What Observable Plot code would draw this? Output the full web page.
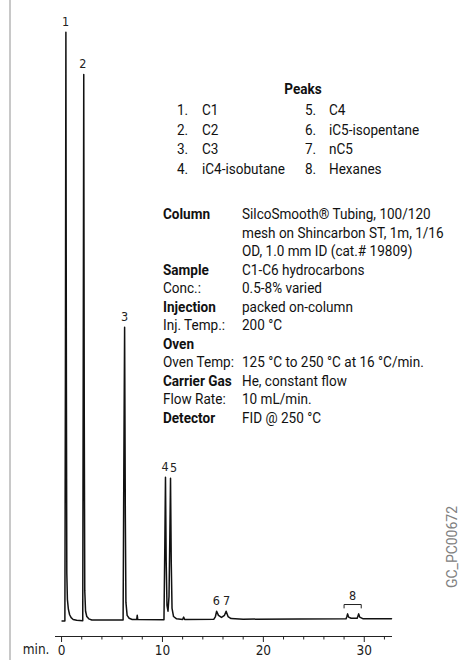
<!DOCTYPE html>
<html>
<head>
<meta charset="utf-8">
<script src="https://cdn.jsdelivr.net/npm/d3@7"></script>
<script src="https://cdn.jsdelivr.net/npm/@observablehq/plot@0.6"></script>
<style>
  html, body { margin: 0; padding: 0; background: #fff; }
  #wrap { position: relative; width: 461px; height: 663px; overflow: hidden; background: #fff; }
  #wrap svg { position: absolute; left: 0; top: 0; }
  #border { position: absolute; left: 9px; top: 0; width: 2px; height: 660px; background: #c8c8c8; }
</style>
</head>
<body>
<div id="wrap"><div id="border"></div></div>
<script>
// ---- chromatogram trace (retention time in min, detector signal in arbitrary units) ----
const traceTime = [0.05, 0.33, 0.38, 0.43, 0.48, 0.52, 0.58, 0.68, 0.8, 0.95, 1.15, 1.5,
  2.1, 2.15, 2.2, 2.25, 2.3, 2.38, 2.5, 2.7, 3.0,
  6.1, 6.17, 6.25, 6.32, 6.38, 6.5, 6.7, 7.0, 7.45, 7.5, 7.55,
  10.15, 10.23, 10.3, 10.37, 10.45, 10.55, 10.65, 10.73, 10.8, 10.87, 10.95, 11.1, 11.4,
  12.0, 12.1, 12.2,
  15.1, 15.25, 15.37, 15.55, 15.85, 16.15, 16.31, 16.5, 16.8, 18.0,
  28.2, 28.28, 28.35, 28.45, 28.7, 29.3, 29.38, 29.45, 29.55, 29.9, 32.7];
const traceSignal = [-0.15, -0.15, 40, 100, 40, 8, 3.5, 1.8, 0.9, 0.4, 0.1, -0.05,
  -0.1, 45, 92.8, 35, 5, 1.5, 0.6, 0.2, 0.0,
  0.0, 25, 49.8, 18, 3, 0.8, 0.3, 0.1, 0.1, 0.8, 0.1,
  0.05, 12, 24.3, 10, 2.5, 1.5, 4, 14, 24.1, 10, 2, 0.6, 0.2,
  0.1, 0.5, 0.1,
  0.15, 0.6, 1.5, 0.8, 0.45, 0.8, 1.5, 0.6, 0.25, 0.15,
  0.2, 0.6, 1.05, 0.5, 0.3, 0.3, 0.7, 1.05, 0.5, 0.2, 0.2];

// ---- peak number labels ----
const peakLabelText = ["1", "2", "3", "4", "5", "6", "7"];
const peakLabelTime = [0.4, 2.1, 6.25, 10.25, 11.1, 15.35, 16.35];
const peakLabelSignal = [100, 92.8, 49.8, 24.3, 24.1, 1.5, 1.5];

// ---- bracket for peak group 8 (hexanes) ----
const bracketTime = [28.0, 28.0, 29.7, 29.7];
const bracketSignal = [2.05, 2.64, 2.64, 2.05];
const bracketLabel = "8";

// ---- axis ticks ----
const majorTicks = [0, 10, 20, 30];
const minorTicks = [2, 4, 6, 8, 12, 14, 16, 18, 22, 24, 26, 28, 32];
const axisUnit = "min.";

// ---- peak legend ----
const peakNames = ["C1", "C2", "C3", "iC4-isobutane", "C4", "iC5-isopentane", "nC5", "Hexanes"];
const legendTitle = "Peaks";

// ---- conditions ----
const condLabels = ["Column", "", "", "Sample", "Conc.:", "Injection", "Inj. Temp.:", "Oven", "Oven Temp:", "Carrier Gas", "Flow Rate:", "Detector"];
const condBold = [true, false, false, true, false, true, false, true, false, true, false, true];
const condValues = ["SilcoSmooth® Tubing, 100/120", "mesh on Shincarbon ST, 1m, 1/16", "OD, 1.0 mm ID (cat.# 19809)",
  "C1-C6 hydrocarbons", "0.5-8% varied", "packed on-column", "200 °C", "",
  "125 °C to 250 °C at 16 °C/min.", "He, constant flow", "10 mL/min.", "FID @ 250 °C"];
const chartId = "GC_PC00672";

// ---- build tables ----
const trace = traceTime.map((t, i) => ({t, s: traceSignal[i]}));
const peakLabels = peakLabelText.map((text, i) => ({text, t: peakLabelTime[i], s: peakLabelSignal[i]}));
const bracket = bracketTime.map((t, i) => ({t, s: bracketSignal[i]}));
const bracketTop = {t: (bracketTime[0] + bracketTime[3]) / 2, s: bracketSignal[1]};

const AXFONT = '"DejaVu Sans Condensed", "DejaVu Sans", sans-serif';

const chart = Plot.plot({
  width: 461,
  height: 663,
  marginLeft: 55,
  marginRight: 70,
  marginTop: 14,
  marginBottom: 27,
  style: {fontFamily: AXFONT, fontSize: "13.5px", color: "#1a1a1a", background: "transparent", overflow: "visible"},
  x: {domain: [-0.6, 32.7], axis: null, label: null},
  y: {domain: [-2.8, 103], axis: null, label: null},
  marks: [
    Plot.frame({anchor: "bottom", stroke: "#222", strokeWidth: 1}),
    Plot.axisX({ticks: minorTicks, tickSize: 3.5, tickFormat: () => "", stroke: "#222", label: null}),
    Plot.axisX({ticks: majorTicks, tickSize: 6, tickPadding: 3, stroke: "#222", fill: "#1a1a1a", fontSize: 13.5, label: null}),
    Plot.line(trace, {x: "t", y: "s", stroke: "#111", strokeWidth: 1.5, curve: "linear"}),
    Plot.text(peakLabels, {x: "t", y: "s", text: "text", dy: -10, fontSize: 12.5, fill: "#222"}),
    Plot.line(bracket, {x: "t", y: "s", stroke: "#222", strokeWidth: 1}),
    Plot.text([bracketTop], {x: "t", y: "s", text: () => bracketLabel, dy: -9, fontSize: 12.5, fill: "#222"})
  ]
});
const wrap = document.getElementById("wrap");
wrap.appendChild(chart);

// ---- text overlays ----
const FONT = 'Roboto, "Open Sans", sans-serif';
const FS = 15.5;
const ctx = document.createElement("canvas").getContext("2d");
function measure(text, size, bold, family) {
  ctx.font = `${bold ? "700 " : ""}${size}px ${family}`;
  return ctx.measureText(text).width;
}
const S = 201.6 / measure(condValues[1], FS, false, FONT);

function put(text, left, cy, opt = {}) {
  const {bold = false, anchor = "start", size = FS, color = "#111", scale = S, family = FONT, rotate = 0} = opt;
  const d = document.createElement("div");
  d.textContent = text;
  let tf;
  if (rotate) tf = `translate(-50%,-50%) rotate(${rotate}deg) scaleX(${scale})`;
  else if (anchor === "middle") tf = `translate(-50%,-50%) scaleX(${scale})`;
  else tf = `translate(0,-50%) scaleX(${scale})`;
  d.style.cssText = `position:absolute;left:${left}px;top:${cy}px;white-space:nowrap;font-family:${family};` +
    `font-size:${size}px;line-height:1;font-weight:${bold ? 700 : 400};color:${color};` +
    `transform-origin:${anchor === "middle" || rotate ? "50% 50%" : "0 50%"};transform:${tf};`;
  wrap.appendChild(d);
  return measure(text, size, bold, family) * scale;
}

// legend
put(legendTitle, 302.7, 90, {bold: true, anchor: "middle"});
const legendRows = [110.7, 130.5, 150.3, 170];
peakNames.forEach((name, i) => {
  const col = i < 4 ? 0 : 1;
  const row = i % 4;
  const numX = col === 0 ? 180.7 : 308.3;
  const nameX = col === 0 ? 201.7 : 329;
  const num = `${i + 1}.`;
  const w = measure(num, FS, false, FONT) * S;
  put(num, numX + (7.5 - w), legendRows[row]);
  put(name, nameX, legendRows[row]);
});

// conditions
const condX = 162.7, valX = 241.7, condY0 = 215, condStep = 18.5;
condLabels.forEach((lab, i) => {
  const y = condY0 + i * condStep;
  let right = condX;
  if (lab) right = condX + put(lab, condX, y, {bold: condBold[i]});
  if (condValues[i]) put(condValues[i], Math.max(valX, right + 4), y);
});

// chart id (rotated)
const idScale = 82 / measure(chartId, 15, false, FONT);
put(chartId, 451.7, 546.7, {size: 15, color: "#808080", scale: idScale, rotate: -90});

// axis unit
put(axisUnit, 22.7, 650, {size: 13.5, family: AXFONT, scale: 1, color: "#1a1a1a"});
</script>
</body>
</html>
